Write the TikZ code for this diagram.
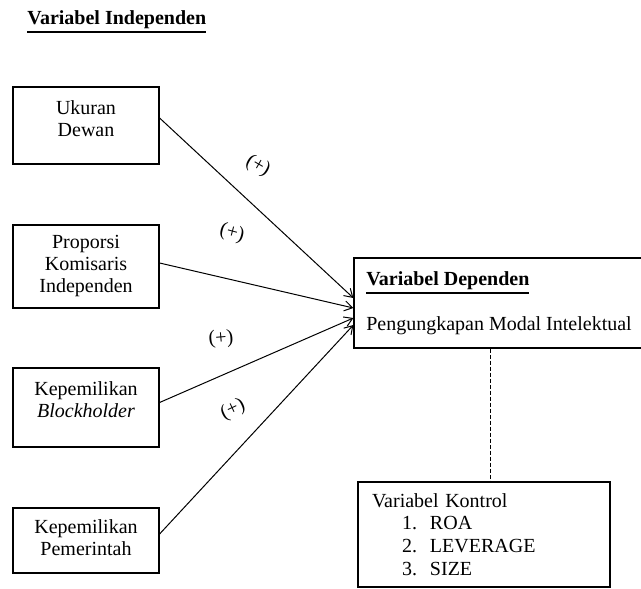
\documentclass[tikz,border=0pt]{standalone}
\usepackage{fontspec}
\setmainfont{Liberation Serif}
\usetikzlibrary{arrows.meta}
\tikzset{>={Straight Barb[length=4pt,width=5pt]}}
\newcommand{\garisbawah}[1]{\vtop{\hbox{#1}\kern1.3pt\hrule height 0.8pt}}
\newcommand{\boxtext}[2][0pt]{\raisebox{#1}[\height][\depth]{\begin{tabular}{@{}c@{}}#2\end{tabular}}}

\begin{document}
\begin{tikzpicture}[x=0.5pt, y=-0.5pt,
  font=\fontsize{10}{11}\selectfont,
  varbox/.style={draw, line width=0.6pt, minimum width=73pt, inner sep=2pt},
  sign/.style={inner sep=0pt},
  link/.style={->, line width=0.5pt}]
\useasboundingbox (0,0) rectangle (641,588);
\node[anchor=base west, inner sep=0pt] (judul) at (27,24.5) {\garisbawah{\textbf{Variabel Independen}}};
% variabel independen
\node[varbox, minimum height=38.5pt] (ukuran) at (86,125.5) {\boxtext[2.1pt]{Ukuran\\Dewan}};
\node[varbox, minimum height=41.5pt] (proporsi) at (86,266.5) {\boxtext{Proporsi\\Komisaris\\Independen}};
\node[varbox, minimum height=39.5pt] (blockholder) at (86,407.5) {\boxtext[2.9pt]{Kepemilikan\\\textit{Blockholder}}};
\node[varbox, minimum height=32.5pt] (pemerintah) at (86,540.5) {\boxtext{Kepemilikan\\Pemerintah}};
% variabel dependen dan kontrol
\node[varbox, minimum width=145pt, minimum height=45pt, align=left] (dependen) at (499,303)
  {\garisbawah{\textbf{Variabel Dependen}}\\[10.5pt]Pengungkapan Modal Intelektual};
\node[varbox, minimum width=126pt, minimum height=52.5pt, text width=112pt, inner xsep=7pt,
  align=left, font=\fontsize{10}{11.35}\selectfont] (kontrol) at (484,534.5)
  {Variabel Kontrol\\
   \hspace*{15pt}\makebox[14pt][l]{1.}ROA\\
   \hspace*{15pt}\makebox[14pt][l]{2.}LEVERAGE\\
   \hspace*{15pt}\makebox[14pt][l]{3.}SIZE};
\draw[link] ([yshift=3.75pt]ukuran.east) -- ([yshift=2.5pt]dependen.west);
\draw[link] ([yshift=1.75pt]proporsi.east) -- ([yshift=-2.5pt]dependen.west);
\draw[link] ([yshift=2.5pt]blockholder.east) -- ([yshift=-7.5pt]dependen.west);
\draw[link] ([yshift=3.25pt]pemerintah.east) -- ([yshift=-11pt]dependen.west);
\node[sign, rotate=-30] (tanda1) at (258,166) {(+)};
\node[sign, rotate=-15] (tanda2) at (232,233) {(+)};
\node[sign, rotate=5] (tanda3) at (221,339) {(+)};
\node[sign, rotate=25] (tanda4) at (233,410) {(+)};
\coordinate (garis) at (490,0);
\draw[dash pattern=on 2pt off 1pt, line width=0.5pt] (dependen.south -| garis) -- (kontrol.north -| garis);
\end{tikzpicture}
\end{document}
